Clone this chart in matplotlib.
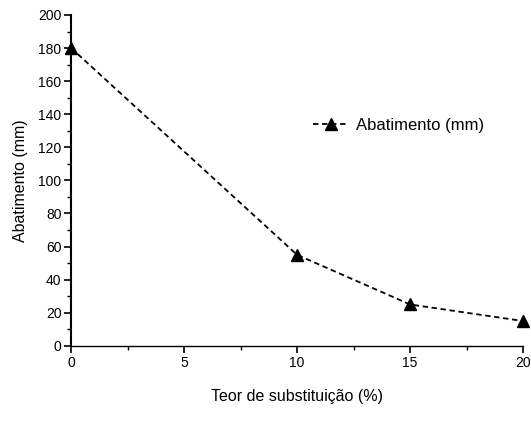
import matplotlib.pyplot as plt
from matplotlib.ticker import MultipleLocator

plt.rcParams['font.family'] = ['Liberation Sans', 'DejaVu Sans']

# teor de substituição (%) e abatimento medido (mm)
teor = [0, 10, 15, 20]
abatimento = [180, 55, 25, 15]

fig = plt.figure(figsize=(5.31, 4.28), dpi=100)
ax = fig.add_axes([0.134, 0.192, 0.851, 0.773])

ax.plot(teor, abatimento, color='black', linestyle=(0, (3, 2)), linewidth=1.3,
        marker='^', markersize=9, clip_on=False, label='Abatimento (mm)')

ax.set_xlim(0, 20)
ax.set_ylim(0, 200)
ax.xaxis.set_major_locator(MultipleLocator(5))
ax.xaxis.set_minor_locator(MultipleLocator(2.5))
ax.yaxis.set_major_locator(MultipleLocator(20))
ax.yaxis.set_minor_locator(MultipleLocator(10))

ax.spines['top'].set_visible(False)
ax.spines['right'].set_visible(False)
ax.spines['left'].set_linewidth(1.5)
ax.spines['bottom'].set_linewidth(1.0)
ax.tick_params(which='major', direction='out', length=5, width=1.2, labelsize=10, pad=2)
ax.tick_params(which='minor', direction='out', length=3, width=1.0)

ax.set_xlabel('Teor de substituição (%)', fontsize=11.5, labelpad=14)
ax.set_ylabel('Abatimento (mm)', fontsize=11.5, labelpad=7)

ax.legend(loc='upper left', bbox_to_anchor=(0.52, 0.71), frameon=False,
          fontsize=12, handlelength=2.2, handletextpad=0.4, borderaxespad=0)

fig.savefig('out.png', dpi=100)
